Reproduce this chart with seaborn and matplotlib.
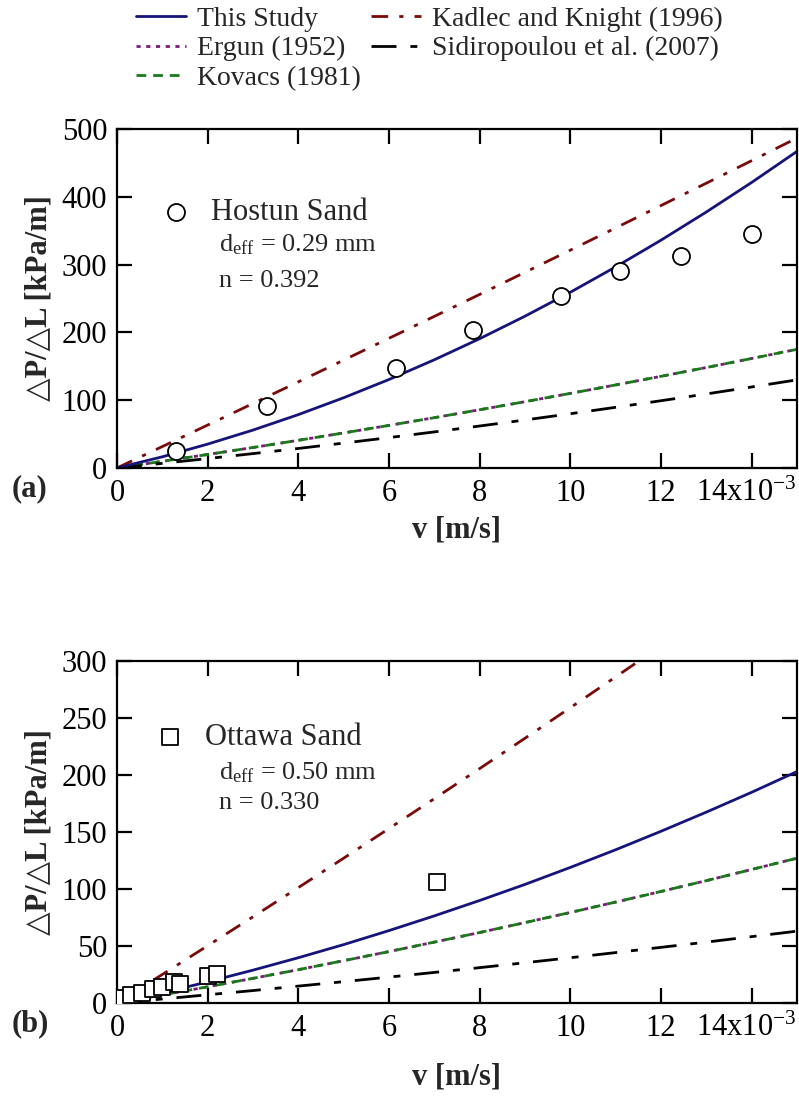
import matplotlib
matplotlib.use("Agg")
import matplotlib.pyplot as plt
import matplotlib.transforms as mtransforms
import seaborn as sns

# Flow velocity grid for the model curves, in units of 1e-3 m/s
v_grid = [0, 1, 2, 3, 4, 5, 6, 7, 8, 9, 10, 11, 12, 13, 14, 15]

# (a) Hostun sand: measured pressure gradient [kPa/m]
hostun_v = [1.3, 3.3, 6.15, 7.85, 9.8, 11.1, 12.45, 14.0]
hostun_dp = [25, 91, 147, 203, 253, 290, 312, 345]

a_this_study = [0, 16.5, 35.2, 55.9, 78.7, 103.6, 130.5, 159.6, 190.7, 223.9, 259.2, 296.6, 336.0, 377.6, 421.2, 467.0]
a_kadlec = [0, 31.6, 63.3, 95.1, 127.0, 159.1, 191.3, 223.6, 256.0, 288.6, 321.3, 354.1, 387.1, 420.1, 453.3, 486.7]
a_ergun = [0, 9.8, 19.9, 30.2, 40.8, 51.7, 62.8, 74.2, 85.9, 97.8, 110.0, 122.5, 135.2, 148.2, 161.5, 175.0]
a_kovacs = [0, 9.8, 19.9, 30.2, 40.8, 51.7, 62.8, 74.2, 85.9, 97.8, 110.0, 122.5, 135.2, 148.2, 161.5, 175.0]
a_sidiropoulou = [0, 6.8, 13.9, 21.2, 28.8, 36.7, 44.8, 53.2, 61.9, 70.8, 80.0, 89.5, 99.2, 109.2, 119.5, 130.0]

# (b) Ottawa sand: measured pressure gradient [kPa/m]
ottawa_v = [0.15, 0.3, 0.55, 0.8, 1.0, 1.25, 1.4, 2.0, 2.2, 7.05]
ottawa_dp = [4, 7, 9, 12, 14, 18, 17, 24, 25, 106]

b_this_study = [0, 8.9, 18.5, 28.8, 39.7, 51.2, 63.5, 76.4, 89.9, 104.0, 118.9, 134.4, 150.6, 167.4, 184.8, 203.0]
b_kadlec = [0, 25.0, 50.2, 75.6, 101.2, 127.0, 153.0, 179.2, 205.6, 232.2, 259.0, 286.0, 313.2, 340.6, 368.2, 396.0]
b_ergun = [0, 7.0, 14.2, 21.6, 29.2, 37.1, 45.1, 53.4, 61.8, 70.5, 79.4, 88.5, 97.8, 107.3, 117.1, 127.0]
b_kovacs = [0, 7.0, 14.2, 21.6, 29.2, 37.1, 45.1, 53.4, 61.8, 70.5, 79.4, 88.5, 97.8, 107.3, 117.1, 127.0]
b_sidiropoulou = [0, 3.5, 7.2, 10.9, 14.8, 18.7, 22.7, 26.8, 31.0, 35.3, 39.7, 44.2, 48.8, 53.4, 58.2, 63.0]

model_names = ["This Study", "Ergun (1952)", "Kovacs (1981)",
               "Kadlec and Knight (1996)", "Sidiropoulou et al. (2007)"]
x_ticks = [0, 2, 4, 6, 8, 10, 12, 14]
x_tick_labels = ["0", "2", "4", "6", "8", "10", "12", "14x10$^{-3}$"]

sns.set_style("ticks")
plt.rcParams["font.family"] = ["Liberation Serif", "DejaVu Sans"]
plt.rcParams["mathtext.fontset"] = "custom"
plt.rcParams["mathtext.rm"] = "Liberation Serif"
plt.rcParams["mathtext.it"] = "Liberation Serif:italic"
plt.rcParams["mathtext.bf"] = "Liberation Serif:bold"

styles = {
    "This Study": dict(color="#14147a", linestyle="-", linewidth=2.0),
    "Ergun (1952)": dict(color="#7a1a7a", linestyle=(0, (1.5, 2.0)), linewidth=2.0),
    "Kovacs (1981)": dict(color="#1a7a1a", linestyle=(0, (3.5, 2.5)), linewidth=2.0),
    "Kadlec and Knight (1996)": dict(color="#7a0a0a", linestyle=(0, (6, 4, 1.5, 4)), linewidth=2.0),
    "Sidiropoulou et al. (2007)": dict(color="black", linestyle=(0, (9, 5, 2.5, 5)), linewidth=2.0),
}

TICK_FS = 22
LABEL_FS = 22
NOTE_FS = 19

fig = plt.figure(figsize=(7.99, 10.97), dpi=100)
ax_a = fig.add_axes([0.1464, 0.5734, 0.8511, 0.3090])
ax_b = fig.add_axes([0.1464, 0.0857, 0.8511, 0.3118])


def draw_panel(ax, curves, pts_v, pts_dp, marker, msize, sand, deff, porosity,
               ymax, ystep, tag, note_pos, xlabelpad):
    order = ["Ergun (1952)", "Kovacs (1981)", "Sidiropoulou et al. (2007)",
             "Kadlec and Knight (1996)", "This Study"]
    for name in order:
        sns.lineplot(x=v_grid, y=curves[name], ax=ax, label=name,
                     legend=False, **styles[name])
    sns.scatterplot(x=pts_v, y=pts_dp, ax=ax, marker=marker, s=msize,
                    facecolor="white", edgecolor="black", linewidth=1.3,
                    label=sand, legend=False, zorder=5)

    ax.set_xlim(0, 15)
    ax.set_ylim(0, ymax)
    ax.set_xticks(x_ticks)
    ax.set_xticklabels(x_tick_labels)
    yt = list(range(0, ymax + 1, ystep))
    ax.set_yticks(yt)
    ax.set_yticklabels([str(t) for t in yt])
    for sp in ax.spines.values():
        sp.set_visible(True)
        sp.set_linewidth(1.6)
        sp.set_color("black")
    ax.tick_params(direction="in", length=11, width=1.6, top=True, right=True,
                   labelsize=TICK_FS, colors="black")
    ax.tick_params(axis="x", pad=8)
    ax.tick_params(axis="y", pad=7)
    # keep the last tick label (with the 10^-3 multiplier) inside the figure
    last = ax.get_xticklabels()[-1]
    last.set_transform(last.get_transform() +
                       mtransforms.ScaledTranslation(-6 / 100, 0, fig.dpi_scale_trans))
    ax.set_xlabel("v [m/s]", fontsize=LABEL_FS, fontweight="bold", labelpad=xlabelpad)
    ax.set_ylabel("△P/△L [kPa/m]", fontsize=LABEL_FS, fontweight="bold", labelpad=6)
    ax.text(-0.155, -0.06, tag, transform=ax.transAxes, fontsize=LABEL_FS,
            fontweight="bold", va="center", ha="left")

    sx, sy, dy1, dy2 = note_pos
    pts_handle = ax.collections[-1]
    ax.legend(handles=[pts_handle], labels=[sand], loc="center left",
              bbox_to_anchor=(sx, sy), frameon=False, fontsize=TICK_FS,
              handlelength=0.6, handletextpad=0.85, borderpad=0,
              borderaxespad=0, markerscale=1.0)
    ax.text(0.15, dy1, r"d$_{\mathrm{eff}}$ = " + deff, transform=ax.transAxes,
            fontsize=NOTE_FS, va="center", ha="left")
    ax.text(0.15, dy2, "n = " + porosity, transform=ax.transAxes,
            fontsize=NOTE_FS, va="center", ha="left")


curves_a = {"This Study": a_this_study, "Kadlec and Knight (1996)": a_kadlec,
            "Ergun (1952)": a_ergun, "Kovacs (1981)": a_kovacs,
            "Sidiropoulou et al. (2007)": a_sidiropoulou}
curves_b = {"This Study": b_this_study, "Kadlec and Knight (1996)": b_kadlec,
            "Ergun (1952)": b_ergun, "Kovacs (1981)": b_kovacs,
            "Sidiropoulou et al. (2007)": b_sidiropoulou}

draw_panel(ax_a, curves_a, hostun_v, hostun_dp, "o", 150, "Hostun Sand",
           "0.29 mm", "0.392", 500, 100, "(a)", (0.073, 0.755, 0.658, 0.552), 5)
draw_panel(ax_b, curves_b, ottawa_v, ottawa_dp, "s", 120, "Ottawa Sand",
           "0.50 mm", "0.330", 300, 50, "(b)", (0.064, 0.777, 0.672, 0.585), 14)

# Shared legend for the model curves
line_by_label = {ln.get_label(): ln for ln in ax_a.get_lines()}
fig.legend(handles=[line_by_label[n] for n in model_names], labels=model_names,
           ncol=2, loc="upper left", bbox_to_anchor=(0.17, 0.994),
           frameon=False, fontsize=20, handlelength=1.8, handletextpad=0.4,
           columnspacing=0.35, labelspacing=0.14, borderpad=0, borderaxespad=0)

fig.savefig("out.png", dpi=100)
